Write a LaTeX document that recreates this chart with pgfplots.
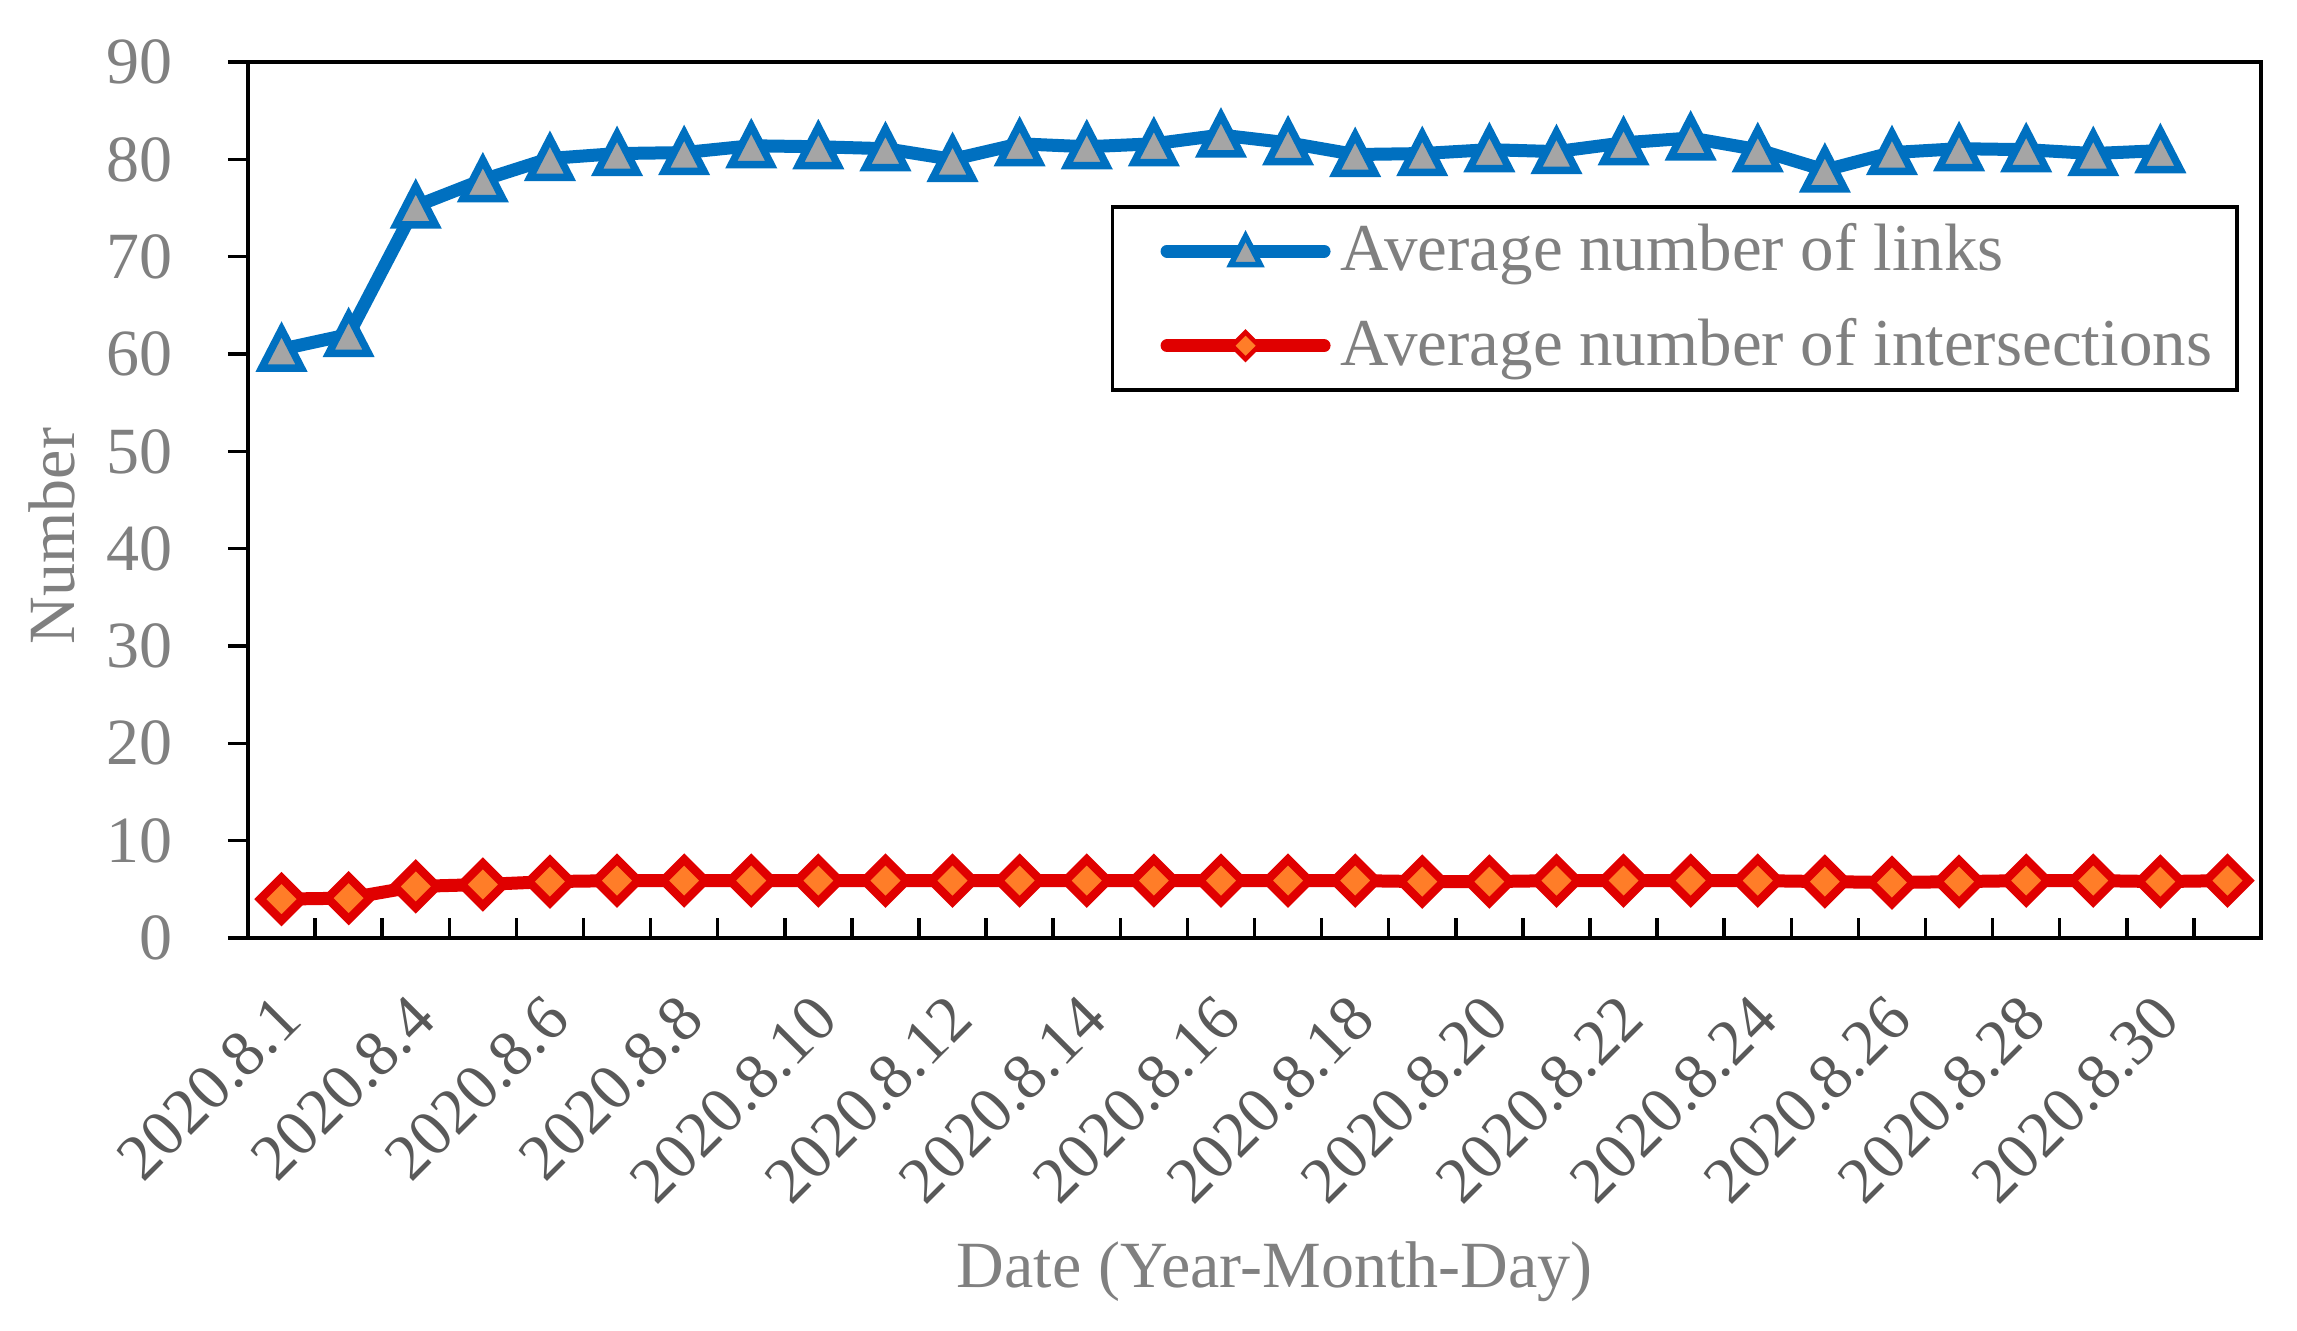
\documentclass[border=0pt]{standalone}
\usepackage{fontspec}
\setmainfont{Liberation Serif}
\usepackage{pgfplots}
\pgfplotsset{compat=1.18}
\definecolor{blue0}{RGB}{0,112,192}
\definecolor{mgray}{RGB}{165,165,165}
\definecolor{red0}{RGB}{224,0,0}
\definecolor{orange0}{RGB}{255,125,40}
\definecolor{tgray}{RGB}{128,128,128}
\definecolor{dgray}{RGB}{89,89,89}
\newcommand\cf{\fontsize{13.2pt}{15.8pt}\selectfont}
\newcommand\lf{\fontsize{13.4pt}{16pt}\selectfont}
\newcommand\xf{\fontsize{13pt}{15.6pt}\selectfont}
\begin{document}
\begin{tikzpicture}
\begin{axis}[
  at={(0,0)}, anchor=south west,
  scale only axis,
  width=402.6pt, height=175.2pt,
  xmin=0.5, xmax=30.5, ymin=0, ymax=90,
  xtick={1,3,...,29},
  xticklabels={2020.8.1,2020.8.4,2020.8.6,2020.8.8,2020.8.10,2020.8.12,2020.8.14,2020.8.16,2020.8.18,2020.8.20,2020.8.22,2020.8.24,2020.8.26,2020.8.28,2020.8.30},
  minor xtick={1.5,2.5,...,29.5},
  ytick={0,10,...,90},
  tick pos=left,
  xtick align=inside, ytick align=outside,
  major tick length=4pt, minor tick length=4pt,
  major x tick style={draw=none},
  tick style={black, line width=0.7pt},
  axis line style={line width=0.7pt},
  clip=false,
  /pgf/number format/assume math mode=true,
  yticklabel style={font=\cf, text=tgray, inner sep=0pt, xshift=-10.8pt},
  xticklabel style={font=\xf, text=dgray, xshift=4pt, yshift=-11.5pt, rotate=45, anchor=east},
  xlabel={Date (Year-Month-Day)}, ylabel={Number},
  label style={font=\cf, text=tgray},
  xlabel style={at={(axis description cs:0.51,-0.381)}, anchor=center},
  ylabel style={at={(axis description cs:-0.0974,0.459)}, anchor=center},
  legend cell align=left,
  legend style={at={(0.989,0.8368)}, anchor=north east, draw=black, line width=0.7pt,
    inner xsep=5pt, inner ysep=3.4pt, row sep=8pt, column sep=2pt,
    font=\lf, text=tgray, nodes={inner sep=0pt}},
]

\addplot[blue0, line width=2.6pt, line join=round, line cap=round,
  mark=triangle*, mark size=4.6pt,
  mark options={draw=blue0, fill=mgray, line width=1.5pt, line join=miter, yshift=-1.2pt, yscale=1.12},
  legend image code/.code={
    \draw[white, opacity=0, line width=0.1pt] (-4.6pt,0pt) -- (34pt,0pt);
    \draw[blue0, line width=2.6pt, line cap=round] (1.3pt,0pt) -- (32.7pt,0pt);
    \draw[draw=blue0, fill=mgray, line width=1.1pt, line join=miter]
      plot[only marks, mark=triangle*, mark size=3.4pt, mark options={yshift=-0.8pt, yscale=1.12}] coordinates {(17pt,0pt)};
  }]
  table {
x y
1 60.5
2 62.0
3 75.2
4 77.9
5 80.1
6 80.6
7 80.7
8 81.4
9 81.3
10 81.1
11 80.0
12 81.6
13 81.3
14 81.6
15 82.5
16 81.7
17 80.5
18 80.6
19 81.0
20 80.8
21 81.7
22 82.2
23 81.0
24 78.9
25 80.7
26 81.1
27 81.0
28 80.6
29 80.9
};
\addlegendentry{Average number of links}

\addplot[red0, line width=2.6pt, line join=round, line cap=round,
  mark=square*, mark size=3.0pt,
  mark options={draw=red0, fill=orange0, line width=1.7pt, line join=miter, rotate=45},
  legend image code/.code={
    \draw[white, opacity=0, line width=0.1pt] (-4.6pt,0pt) -- (34pt,0pt);
    \draw[red0, line width=2.6pt, line cap=round] (1.3pt,0pt) -- (32.7pt,0pt);
    \draw[draw=red0, fill=orange0, line width=0.9pt, line join=miter]
      plot[only marks, mark=square*, mark size=1.9pt, mark options={rotate=45}] coordinates {(17pt,0pt)};
  }]
  table {
x y
1 4.0
2 4.1
3 5.3
4 5.5
5 5.8
6 5.9
7 5.9
8 5.9
9 5.9
10 5.9
11 5.9
12 5.9
13 5.9
14 5.9
15 5.9
16 5.9
17 5.9
18 5.8
19 5.8
20 5.9
21 5.9
22 5.9
23 5.9
24 5.8
25 5.7
26 5.8
27 5.9
28 5.9
29 5.8
30 5.9
};
\addlegendentry{Average number of intersections}
\end{axis}
\pgfresetboundingbox
\path[use as bounding box] (current axis.south west) ++(-49.6pt,-78.4pt) rectangle ++(459.4pt,266pt);
\end{tikzpicture}
\end{document}
